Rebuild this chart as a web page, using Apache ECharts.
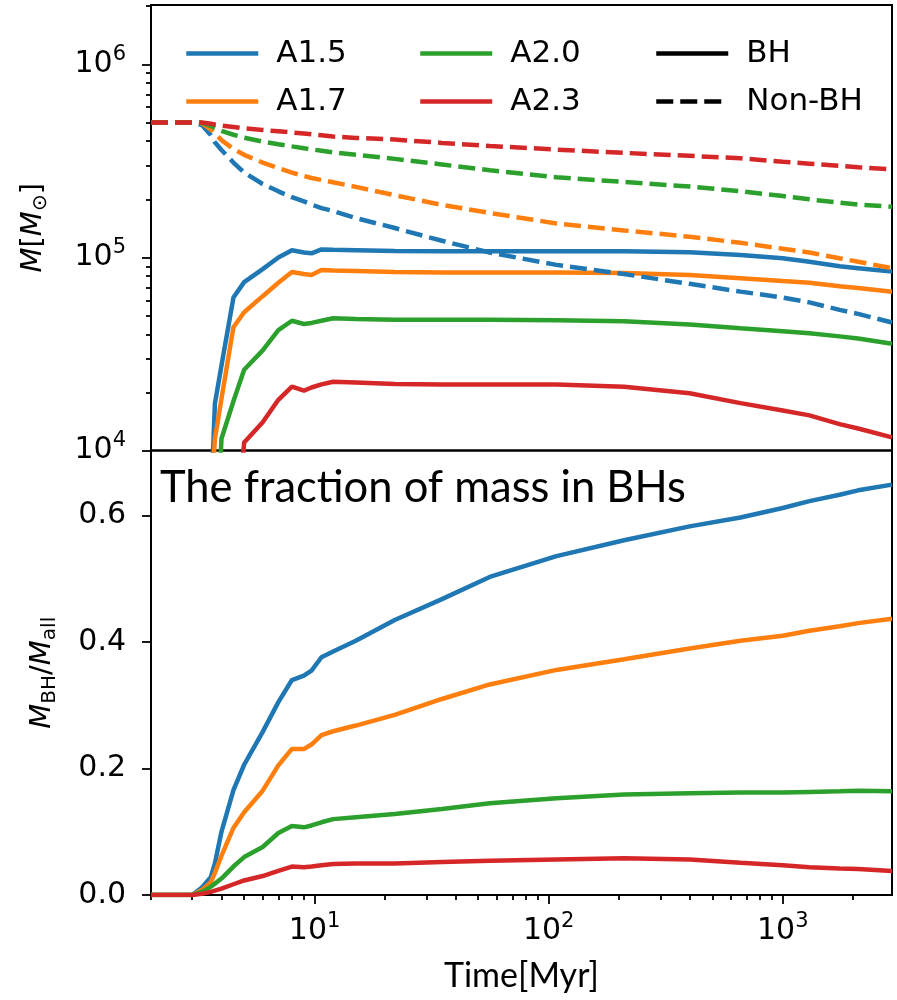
<!DOCTYPE html>
<html><head><meta charset="utf-8">
<script src="https://cdn.jsdelivr.net/npm/echarts@6/dist/echarts.min.js"></script>
<style>html,body{margin:0;padding:0;background:#fff}#c{width:897px;height:1000px}</style>
</head><body><div id="c"></div>
<script>
// ---- data (time in Myr) ----
const times = [2, 3, 3.3, 3.6, 3.75, 4.0, 4.5, 5.0, 6.0, 7.0, 8.0, 9.0, 9.7, 10.7, 12, 15, 22, 35, 56, 108, 210, 400, 660, 1000, 1300, 1750, 2100, 2930];

// Non-BH mass [Msun]
const nonA15 = [5e5, 5e5, 4.85e5, 4.3e5, 3.95e5, 3.6e5, 3.1e5, 2.75e5, 2.4e5, 2.2e5, 2.05e5, 1.95e5, 1.88e5, 1.8e5, 1.74e5, 1.6e5, 1.42e5, 1.22e5, 1.06e5, 9.15e4, 8.2e4, 7.3e4, 6.65e4, 6.2e4, 5.85e4, 5.35e4, 5.1e4, 4.6e4];
const nonA17 = [5e5, 5e5, 4.95e5, 4.6e5, 4.4e5, 4.05e5, 3.65e5, 3.4e5, 3.1e5, 2.9e5, 2.75e5, 2.64e5, 2.58e5, 2.52e5, 2.45e5, 2.32e5, 2.1e5, 1.87e5, 1.7e5, 1.5e5, 1.38e5, 1.28e5, 1.19e5, 1.11e5, 1.06e5, 9.9e4, 9.5e4, 8.8e4];
const nonA20 = [5e5, 5e5, 4.98e5, 4.8e5, 4.68e5, 4.52e5, 4.32e5, 4.17e5, 3.98e5, 3.86e5, 3.76e5, 3.68e5, 3.63e5, 3.57e5, 3.5e5, 3.4e5, 3.24e5, 3.03e5, 2.83e5, 2.6e5, 2.46e5, 2.33e5, 2.2e5, 2.08e5, 2.0e5, 1.92e5, 1.88e5, 1.83e5];
const nonA23 = [5e5, 5e5, 5e5, 4.93e5, 4.88e5, 4.82e5, 4.74e5, 4.67e5, 4.57e5, 4.5e5, 4.44e5, 4.38e5, 4.34e5, 4.29e5, 4.23e5, 4.16e5, 4.08e5, 3.92e5, 3.78e5, 3.62e5, 3.48e5, 3.36e5, 3.26e5, 3.13e5, 3.06e5, 2.98e5, 2.93e5, 2.86e5];

// BH mass [Msun] (null = no BHs yet; first value lies below the axis floor)
const bhA15 = [null, null, null, 5e3, 1.75e4, 2.75e4, 6.2e4, 7.45e4, 8.7e4, 1.0e5, 1.09e5, 1.06e5, 1.05e5, 1.1e5, 1.095e5, 1.09e5, 1.08e5, 1.075e5, 1.075e5, 1.075e5, 1.075e5, 1.065e5, 1.03e5, 9.9e4, 9.5e4, 9.0e4, 8.8e4, 8.45e4];
const bhA17 = [null, null, null, 5e3, 1.15e4, 1.85e4, 4.35e4, 5.2e4, 6.3e4, 7.4e4, 8.4e4, 8.2e4, 8.1e4, 8.6e4, 8.55e4, 8.5e4, 8.4e4, 8.35e4, 8.35e4, 8.35e4, 8.3e4, 8.1e4, 7.8e4, 7.55e4, 7.4e4, 7.1e4, 6.95e4, 6.65e4];
const bhA20 = [null, null, null, null, 2e3, 1.15e4, 1.8e4, 2.62e4, 3.3e4, 4.2e4, 4.7e4, 4.52e4, 4.58e4, 4.7e4, 4.84e4, 4.8e4, 4.76e4, 4.75e4, 4.75e4, 4.73e4, 4.67e4, 4.5e4, 4.3e4, 4.15e4, 4.05e4, 3.9e4, 3.8e4, 3.57e4];
const bhA23 = [null, null, null, null, null, null, 2e3, 1.1e4, 1.4e4, 1.83e4, 2.14e4, 2.04e4, 2.12e4, 2.2e4, 2.27e4, 2.25e4, 2.21e4, 2.2e4, 2.2e4, 2.2e4, 2.14e4, 1.98e4, 1.76e4, 1.61e4, 1.52e4, 1.37e4, 1.3e4, 1.17e4];

// fraction of mass in BHs
const fracA15 = [0, 0, 0.012, 0.028, 0.05, 0.1, 0.166, 0.206, 0.258, 0.305, 0.34, 0.347, 0.355, 0.376, 0.385, 0.402, 0.435, 0.468, 0.503, 0.536, 0.561, 0.583, 0.597, 0.612, 0.623, 0.633, 0.640, 0.649];
const fracA17 = [0, 0, 0.008, 0.02, 0.035, 0.062, 0.106, 0.131, 0.165, 0.205, 0.231, 0.231, 0.238, 0.253, 0.259, 0.268, 0.285, 0.31, 0.333, 0.356, 0.373, 0.39, 0.402, 0.41, 0.418, 0.425, 0.43, 0.437];
const fracA20 = [0, 0, 0.005, 0.013, 0.018, 0.026, 0.045, 0.06, 0.076, 0.098, 0.109, 0.107, 0.11, 0.115, 0.12, 0.123, 0.128, 0.136, 0.145, 0.153, 0.159, 0.161, 0.162, 0.162, 0.163, 0.164, 0.165, 0.164];
const fracA23 = [0, 0, 0.002, 0.005, 0.007, 0.01, 0.017, 0.023, 0.03, 0.038, 0.045, 0.044, 0.045, 0.047, 0.049, 0.05, 0.05, 0.052, 0.054, 0.056, 0.058, 0.056, 0.051, 0.047, 0.044, 0.042, 0.041, 0.038];

const modelNames = ['A1.5', 'A1.7', 'A2.0', 'A2.3'];
const styleNames = ['BH', 'Non-BH'];

// ticks
const xMajor = [10, 100, 1000];
const xMinor = [2, 3, 4, 5, 6, 7, 8, 9, 20, 30, 40, 50, 60, 70, 80, 90, 200, 300, 400, 500, 600, 700, 800, 900, 2000];
const yTopMajor = [1e4, 1e5, 1e6];
const yTopMinor = [2e4, 3e4, 4e4, 5e4, 6e4, 7e4, 8e4, 9e4, 2e5, 3e5, 4e5, 5e5, 6e5, 7e5, 8e5, 9e5, 2e6];
const yBotTicks = [0, 0.2, 0.4, 0.6];

// ---- chart ----
const colors = ['#1f77b4', '#ff7f0e', '#2ca02c', '#d62728'];
const bhSets = [bhA15, bhA17, bhA20, bhA23];
const nonSets = [nonA15, nonA17, nonA20, nonA23];
const fracSets = [fracA15, fracA17, fracA20, fracA23];
const LW = 4.5, DASH = [17, 7];
const FONT = 'DejaVu Sans';

function pairs(vals) {
  const out = [];
  times.forEach((t, i) => { if (vals[i] !== null) out.push([t, vals[i]]); });
  return out;
}
function supFmt(v) {
  const e = Math.round(Math.log10(v));
  return '{b|10}{s|' + e + '}';
}
const supRich = {
  b: { fontFamily: FONT, fontSize: 30, color: '#000', lineHeight: 40 },
  s: { fontFamily: FONT, fontSize: 21, color: '#000', lineHeight: 21, verticalAlign: 'top' }
};

const series = [];
modelNames.forEach((n, i) => {
  series.push({ name: n, type: 'line', xAxisIndex: 0, yAxisIndex: 0, data: pairs(bhSets[i]),
    symbol: 'none', lineStyle: { color: colors[i], width: LW }, itemStyle: { color: colors[i] }, z: 3 });
});
modelNames.forEach((n, i) => {
  series.push({ name: n + ' ', type: 'line', xAxisIndex: 0, yAxisIndex: 0, data: pairs(nonSets[i]),
    symbol: 'none', lineStyle: { color: colors[i], width: LW, type: DASH }, itemStyle: { color: colors[i] }, z: 3 });
});
modelNames.forEach((n, i) => {
  series.push({ name: n + '  ', type: 'line', xAxisIndex: 1, yAxisIndex: 2, data: pairs(fracSets[i]),
    symbol: 'none', lineStyle: { color: colors[i], width: LW }, itemStyle: { color: colors[i] }, z: 3 });
});
series.push({ name: styleNames[0], type: 'line', xAxisIndex: 0, yAxisIndex: 0, data: [],
  symbol: 'none', lineStyle: { color: '#000', width: LW }, itemStyle: { color: '#000' } });
series.push({ name: styleNames[1], type: 'line', xAxisIndex: 0, yAxisIndex: 0, data: [],
  symbol: 'none', lineStyle: { color: '#000', width: LW, type: DASH }, itemStyle: { color: '#000' } });

const legendCommon = {
  orient: 'vertical', itemWidth: 72, itemHeight: 14, itemGap: 17, selectedMode: false,
  itemStyle: { opacity: 0 },
  lineStyle: { width: LW },
  textStyle: { fontFamily: FONT, fontSize: 31, color: '#000', lineHeight: 31, padding: [0, 0, 0, 13] }
};

const tickLine = { color: '#000', width: 1.8 };
const option = {
  backgroundColor: '#fff',
  animation: false,
  grid: [
    { left: 151, top: 5, width: 741, height: 445.5, show: true, borderColor: '#000', borderWidth: 2, backgroundColor: 'transparent' },
    { left: 151, top: 450.5, width: 741, height: 444.5, show: true, borderColor: '#000', borderWidth: 2, backgroundColor: 'transparent' }
  ],
  xAxis: [
    { gridIndex: 0, type: 'log', logBase: 10, min: 2, max: 2930, position: 'bottom', axisLine: { show: false }, axisTick: { show: false }, axisLabel: { show: false }, splitLine: { show: false } },
    { gridIndex: 1, type: 'log', logBase: 10, min: 2, max: 2930, position: 'bottom', axisLine: { show: false }, splitLine: { show: false },
      axisTick: { show: true, length: 9, lineStyle: tickLine, customValues: xMajor },
      axisLabel: { customValues: xMajor, formatter: supFmt, rich: supRich, margin: 16 },
      name: 'Time[Myr]', nameLocation: 'middle', nameGap: 64,
      nameTextStyle: { fontFamily: 'Lato', fontSize: 34, color: '#000' } },
    { gridIndex: 1, type: 'log', logBase: 10, min: 2, max: 2930, position: 'bottom', axisLine: { show: false }, splitLine: { show: false },
      axisTick: { show: true, length: 5, lineStyle: tickLine, customValues: xMinor }, axisLabel: { show: false } }
  ],
  yAxis: [
    { gridIndex: 0, type: 'log', logBase: 10, min: 1e4, max: 2.03e6, position: 'left', axisLine: { show: false }, splitLine: { show: false },
      axisTick: { show: true, length: 9, lineStyle: tickLine, customValues: yTopMajor },
      axisLabel: { customValues: yTopMajor, formatter: supFmt, rich: supRich, margin: 25 },
      name: '{i|M}[{i|M}{sub|⊙}]', nameLocation: 'middle', nameRotate: 90, nameGap: 100,
      nameTextStyle: { fontFamily: FONT, fontSize: 29, color: '#000', lineHeight: 36,
        rich: { i: { fontFamily: FONT, fontStyle: 'italic', fontSize: 29, color: '#000', lineHeight: 36 },
                sub: { fontFamily: FONT, fontSize: 20, color: '#000', lineHeight: 20, verticalAlign: 'bottom' } } } },
    { gridIndex: 0, type: 'log', logBase: 10, min: 1e4, max: 2.03e6, position: 'left', axisLine: { show: false }, splitLine: { show: false },
      axisTick: { show: true, length: 5, lineStyle: tickLine, customValues: yTopMinor }, axisLabel: { show: false } },
    { gridIndex: 1, type: 'value', min: 0, max: 0.703, position: 'left', axisLine: { show: false }, splitLine: { show: false },
      axisTick: { show: true, length: 9, lineStyle: tickLine, customValues: yBotTicks },
      axisLabel: { customValues: yBotTicks, formatter: v => v.toFixed(1), fontFamily: FONT, fontSize: 30, color: '#000', margin: 25 },
      name: '{i|M}{sub|BH}/{i|M}{sub|all}', nameLocation: 'middle', nameRotate: 90, nameGap: 91,
      nameTextStyle: { fontFamily: FONT, fontSize: 29, color: '#000', lineHeight: 36,
        rich: { i: { fontFamily: FONT, fontStyle: 'italic', fontSize: 29, color: '#000', lineHeight: 36 },
                sub: { fontFamily: FONT, fontSize: 20, color: '#000', lineHeight: 20, verticalAlign: 'bottom' } } } }
  ],
  legend: [
    Object.assign({ data: [modelNames[0], modelNames[1]], left: 179, top: 33 }, legendCommon),
    Object.assign({ data: [modelNames[2], modelNames[3]], left: 413, top: 33 }, legendCommon),
    Object.assign({ data: styleNames, left: 649, top: 33 }, legendCommon)
  ],
  graphic: [
    { type: 'text', left: 160, top: 466, z: 10,
      style: { text: 'The fraction of mass in BHs', fontFamily: 'Lato', fontSize: 43.5, fill: '#000' } }
  ],
  series: series
};
const chart = echarts.init(document.getElementById('c'), null, { renderer: 'canvas' });
chart.setOption(option);
</script>
</body></html>
